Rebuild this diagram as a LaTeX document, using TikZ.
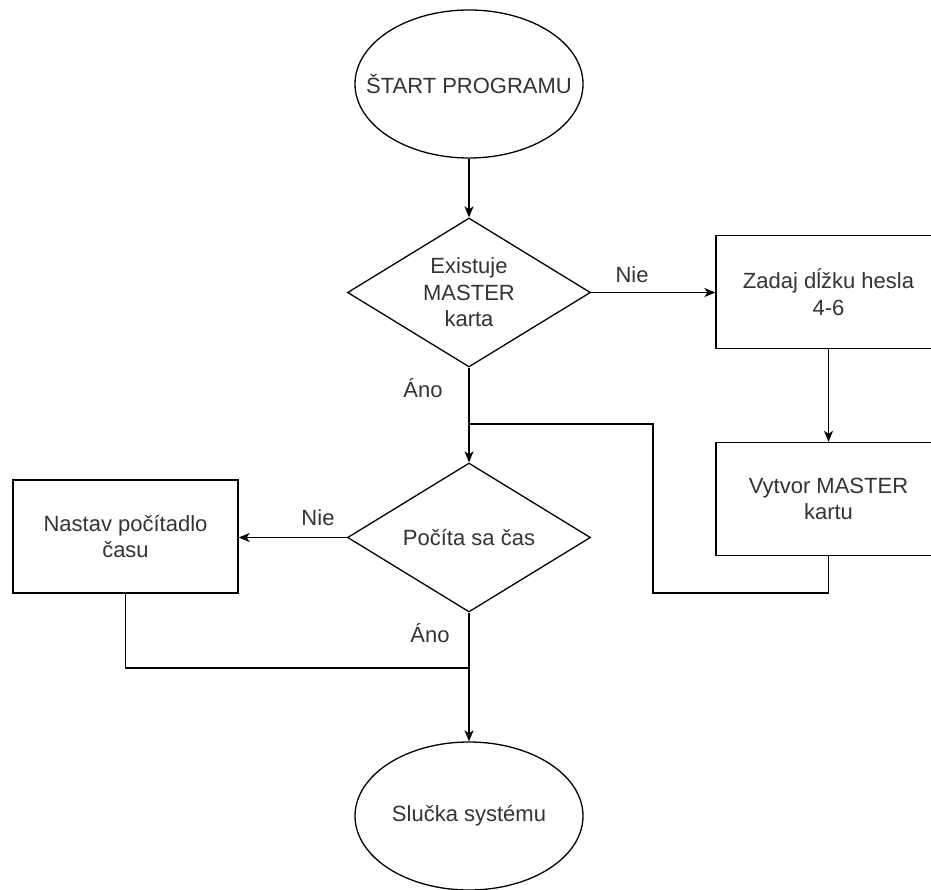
\documentclass[tikz,border=0pt]{standalone}
\usepackage{fontspec}
\setmainfont{Liberation Sans}
\definecolor{inkgray}{HTML}{333333}
\usetikzlibrary{shapes.geometric,arrows.meta}

\begin{document}
\begin{tikzpicture}[x=1pt,y=-1pt,
  base/.style={draw=black,line width=1.3pt,text=inkgray,font=\fontsize{22}{26.5}\selectfont,inner sep=0pt,align=center},
  term/.style={base,ellipse,minimum width=228pt,minimum height=148pt},
  decide/.style={base,diamond,aspect=1.6,minimum width=243pt,minimum height=149pt},
  task/.style={base,rectangle,minimum width=225pt,minimum height=113pt},
  lbl/.style={text=inkgray,font=\fontsize{22}{26.5}\selectfont,inner sep=0pt},
  flow/.style={line width=1.3pt,-{Stealth[length=11pt,width=9pt,inset=3pt]}},
  link/.style={line width=1.3pt}]
  \useasboundingbox (0,0) rectangle (931,890);
  \clip (0,0) rectangle (931,890);
  % blocks
  \node[term] (start) at (469,84) {\makebox[0pt]{ŠTART PROGRAMU}};
  \node[decide] (master) at (469,292.5) {Existuje\\MASTER\\karta};
  \node[task] (heslo) at (828.5,292) {Zadaj dĺžku hesla\\4-6};
  \node[task] (karta) at (828.5,499) {Vytvor MASTER\\kartu};
  \node[decide] (cas) at (469,537.5) {Počíta sa čas};
  \node[task] (nastav) at (125.5,536.5) {Nastav počítadlo\\času};
  \node[term] (slucka) at (469,816) {\makebox[0pt]{Slučka systému}};
  % branch labels
  \node[lbl] (nie1) at (632,275) {Nie};
  \node[lbl] (ano1) at (423,388) {Áno};
  \node[lbl] (nie2) at (318,518) {Nie};
  \node[lbl] (ano2) at (430,633) {Áno};
  % bends
  \coordinate (merge) at (469,424);
  \coordinate (back) at (653,593);
  \coordinate (join) at (469,668);
  % connectors
  \draw[flow] (start.south) -- (master.north);
  \draw[flow] (master.east) -- (master.east -| heslo.west);
  \draw[flow] (heslo.south) -- (karta.north);
  \draw[link] (master.south) -- (merge);
  \draw[flow] (karta.south) |- (back) |- (merge) -- (cas.north);
  \draw[flow] (cas.west) -- (cas.west -| nastav.east);
  \draw[link] (nastav.south) |- (join);
  \draw[flow] (cas.south) -- (slucka.north);
\end{tikzpicture}
\end{document}
